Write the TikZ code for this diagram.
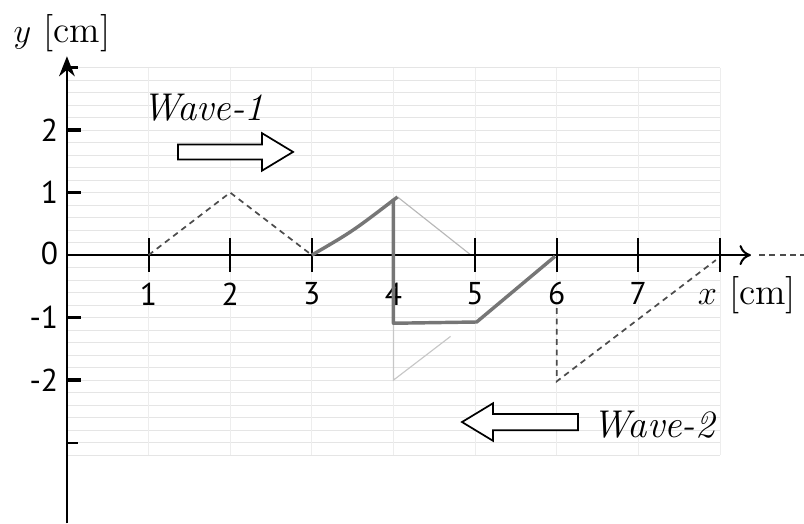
\documentclass[tikz,border=0pt]{standalone}
\usepackage{fontspec}
\usepackage{tikz}
\usetikzlibrary{arrows.meta}
\newfontfamily\ticksf{PT Sans}
\definecolor{PencilGray}{RGB}{118,118,118}
\tikzset{
    gridline/.style={black!10, line width=0.3pt},
    axisline/.style={line width=0.7pt},
    wavedash/.style={black!70, line width=0.6pt, dash pattern=on 2pt off 1.6pt},
    pencil/.style={PencilGray, line width=1.2pt, line join=round},
    faint/.style={black!28, line width=0.4pt},
    blockarrow/.style={line width=0.6pt, fill=white},
    ticklabel/.style={font=\ticksf\fontsize{11}{12}\selectfont, inner sep=0pt},
    wavelabel/.style={font=\fontsize{13.5}{15}\selectfont\itshape, inner sep=0pt},
    unitlabel/.style={font=\fontsize{13}{15}\selectfont, inner sep=0pt}
}

\begin{document}
\begin{tikzpicture}[x=1cm, y=0.766cm]
    \useasboundingbox (-0.82,-4.29) rectangle (9.03,4.08);
    % grid
    \foreach \k in {0,...,31}
      \draw[gridline] (0,-3.2+0.2*\k) -- (8,-3.2+0.2*\k);
    \foreach \k in {1,...,8}
      \draw[gridline, black!7] (\k,-3.2) -- (\k,3);
    % points of the two pulses
    \coordinate (a1) at (1,0);
    \coordinate (a2) at (2,1);
    \coordinate (a3) at (3,0);
    \coordinate (p) at (4.05,0.93);
    \coordinate (p0) at (4,0.9);
    \coordinate (q) at (4,-1.09);
    \coordinate (r) at (5.02,-1.07);
    \coordinate (s) at (5.98,-0.02);
    \coordinate (b1) at (6,-0.85);
    \coordinate (b2) at (6,-2.02);
    \coordinate (b3) at (7.95,-0.08);
    \coordinate (f0) at (4,0);
    \coordinate (f1) at (4.95,0);
    \coordinate (f2) at (4,-2);
    \coordinate (f3) at (4.7,-1.3);
    % faint helper lines
    \draw[faint] (p) -- (f1);
    \draw[faint, black!22] (f0) -- (f2) -- (f3);
    % axes
    \coordinate (O) at (0,0);
    \coordinate (xend) at (8.38,0);
    \coordinate (xrest) at (8.48,0);
    \coordinate (xfar) at (9.03,0);
    \coordinate (ytop) at (0,3.18);
    \coordinate (ybot) at (0,-4.29);
    \draw[axisline, -{To[length=4pt,width=7pt]}] (O) -- (xend);
    \draw[wavedash] (xrest) -- (xfar);
    \draw[axisline, -{Stealth[length=7pt,width=5.5pt]}] (ybot) -- (ytop);
    \foreach \t in {1,...,8}
      \draw[axisline] (\t,-0.27) -- (\t,0.27);
    \foreach \t in {1,...,7}
      \node[ticklabel] (xl\t) at (\t,-0.62) {\t};
    \foreach \t in {-2,-1,1,2} {
      \draw[line width=1.3pt] (0,\t) -- (0.17,\t);
      \node[ticklabel, anchor=east] (yl\t) at (-0.1,\t) {\t};
    }
    \node[ticklabel, anchor=east] (yl0) at (-0.1,0.03) {0};
    \foreach \t in {-3,3}
      \draw[line width=0.8pt] (0,\t) -- (0.13,\t);
    \node[unitlabel] (ylab) at (-0.06,3.55) {$y$ [cm]};
    \node[unitlabel] (xlab) at (8.33,-0.64) {$x$ [cm]};
    % the pulses
    \draw[wavedash] (a1) -- (a2) -- (a3);
    \draw[pencil] (a3) .. controls (3.5,0.38) .. (p);
    \draw[pencil] (p0) -- (q) -- (r) -- (s);
    \draw[wavedash] (b1) -- (b2) -- (b3);
    % direction arrows
    \node[wavelabel] (w1lab) at (1.67,2.35) {Wave-1};
    \draw[blockarrow] (1.36,1.53) -- ++(1.03,0) -- ++(0,-0.18) -- (2.77,1.65)
      -- (2.39,1.95) -- ++(0,-0.18) -- (1.36,1.77) -- cycle;
    \node[wavelabel] (w2lab) at (7.19,-2.72) {Wave-2};
    \draw[blockarrow] (6.26,-2.80) -- ++(-1.04,0) -- ++(0,-0.17) -- (4.84,-2.67)
      -- (5.22,-2.37) -- ++(0,-0.17) -- (6.26,-2.54) -- cycle;
\end{tikzpicture}
\end{document}
